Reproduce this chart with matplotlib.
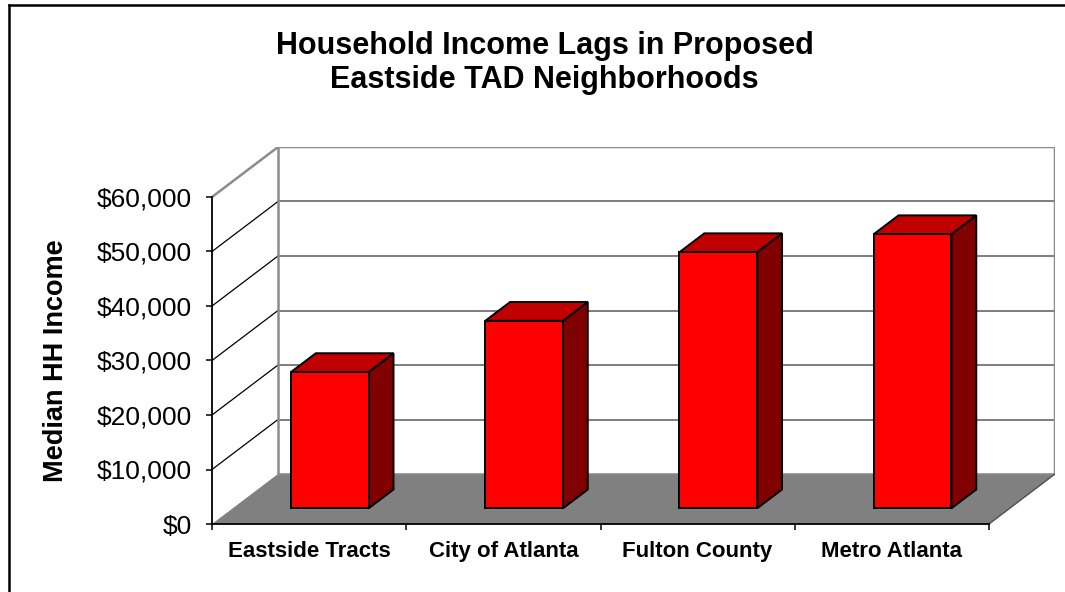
import matplotlib
matplotlib.use("Agg")
import matplotlib.pyplot as plt
from matplotlib.patches import Polygon
from matplotlib.lines import Line2D
from matplotlib.transforms import offset_copy

# ---- data ----
categories = ["Eastside Tracts", "City of Atlanta", "Fulton County", "Metro Atlanta"]
values = [25000, 34400, 47000, 50300]
yticks = [0, 10000, 20000, 30000, 40000, 50000, 60000]
ytick_labels = ["$0", "$10,000", "$20,000", "$30,000", "$40,000", "$50,000", "$60,000"]
title_lines = ["Household Income Lags in Proposed", "Eastside TAD Neighborhoods"]
ylabel = "Median HH Income"

# ---- projection / style constants ----
W, H = 1065, 592
YMAX = 60000
DX = 66 / 194.25          # depth offset in category units
DY = 50 / 327 * YMAX      # depth offset in value units
D0, D1 = 0.314, 0.69      # bar depth range (fraction of full depth)
BW = 0.40                 # bar width
FONT = "Liberation Sans"

plt.rcParams['font.family'] = [FONT, 'DejaVu Sans']

fig = plt.figure(figsize=(W / 100, H / 100), dpi=100)
ax = fig.add_axes([212 / W, 68 / H, 843 / W, 377 / H])
n = len(categories)
ax.set_xlim(0, n + DX)
ax.set_ylim(0, YMAX + DY)
ax.patch.set_visible(False)

grid_c = '#5a5a5a'
wall_c = '#8c8c8c'

# floor
ax.add_patch(Polygon([(0, 0), (n, 0), (n + DX, DY), (DX, DY)], closed=True,
                     facecolor='#808080', edgecolor='none', zorder=1))
ax.plot([n, n + DX], [0, DY], color='#505050', lw=1.0, zorder=1.5)

# back wall gridlines and left wall gridlines
for v in yticks[1:-1]:
    ax.plot([DX, n + DX], [v + DY, v + DY], color=grid_c, lw=1.1, zorder=1.2)
    ax.plot([0, DX], [v, v + DY], color='black', lw=0.9, zorder=1.2)
# wall frame
ax.plot([0, DX, n + DX, n + DX], [YMAX, YMAX + DY, YMAX + DY, DY],
        color=wall_c, lw=1.8, zorder=1.3, solid_joinstyle='miter')
ax.plot([DX, DX], [DY, YMAX + DY], color=wall_c, lw=1.8, zorder=1.3)
ax.plot([DX, n + DX], [DY, DY], color=wall_c, lw=1.2, zorder=1.1)

# bars
for i, v in enumerate(values):
    c = i + 0.5
    xl = c - BW / 2 + D0 * DX
    xr = c + BW / 2 + D0 * DX
    y0 = D0 * DY
    ddx = (D1 - D0) * DX
    y1 = D1 * DY
    kw = dict(closed=True, edgecolor='black', lw=1.4, joinstyle='miter', zorder=3)
    ax.add_patch(Polygon([(xr, y0), (xr + ddx, y1), (xr + ddx, v + y1), (xr, v + y0)],
                         facecolor='#800000', **kw))
    ax.add_patch(Polygon([(xl, v + y0), (xr, v + y0), (xr + ddx, v + y1), (xl + ddx, v + y1)],
                         facecolor='#C00000', **kw))
    ax.add_patch(Polygon([(xl, y0), (xr, y0), (xr, v + y0), (xl, v + y0)],
                         facecolor='#FF0000', **kw))

# axes spines and ticks
for s in ['top', 'right']:
    ax.spines[s].set_visible(False)
ax.spines['left'].set_bounds(0, YMAX)
ax.spines['bottom'].set_bounds(0, n)
for s in ['left', 'bottom']:
    ax.spines[s].set_color('black')
    ax.spines[s].set_linewidth(1.3)
    ax.spines[s].set_zorder(2)
ax.set_yticks(yticks)
ax.set_yticklabels(ytick_labels, fontsize=19, fontfamily=FONT)
ax.tick_params(axis='y', direction='out', length=4.3, width=1.1, pad=10, color='black')
ax.set_xticks(range(n + 1))
ax.set_xticklabels([])
ax.tick_params(axis='x', direction='out', length=4, width=1.1, color='black')

lab_tr = offset_copy(ax.transData, fig=fig, x=0, y=-33, units='dots')
for i, cat in enumerate(categories):
    ax.text(i + 0.5, 0, cat, transform=lab_tr, ha='center', va='baseline',
            fontsize=16, fontweight='bold', fontfamily=FONT, clip_on=False)

# titles
fig.text(544.5 / W, 1 - 54 / H, title_lines[0], ha='center', va='baseline',
         fontsize=22, fontweight='bold', fontfamily=FONT)
fig.text(544.5 / W, 1 - 88 / H, title_lines[1], ha='center', va='baseline',
         fontsize=22, fontweight='bold', fontfamily=FONT)

# y label
fig.text(63 / W, 1 - 361 / H, ylabel, rotation=90, rotation_mode='anchor',
         ha='center', va='baseline', fontsize=19.5, fontweight='bold', fontfamily=FONT)

# outer border (left and top visible)
fig.add_artist(Line2D([8.5 / W, 8.5 / W], [0, 1 - 5 / H], transform=fig.transFigure,
                      color='black', lw=1.8, solid_capstyle='projecting'))
fig.add_artist(Line2D([8.5 / W, 1.01], [1 - 5 / H, 1 - 5 / H], transform=fig.transFigure,
                      color='black', lw=1.8, solid_capstyle='projecting'))

fig.savefig("out.png", dpi=100, facecolor='white')
